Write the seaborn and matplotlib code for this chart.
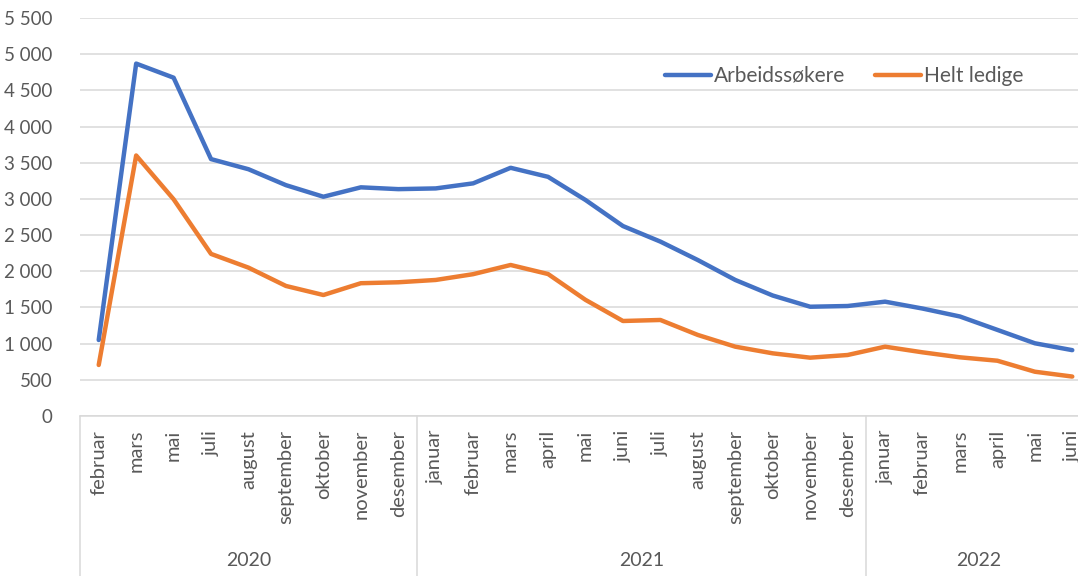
import numpy as np
import pandas as pd
import matplotlib
matplotlib.use("Agg")
import matplotlib.pyplot as plt
import matplotlib.ticker as mticker
import seaborn as sns

# data
years = ["2020", "2021", "2022"]
months_2020 = ["februar", "mars", "mai", "juli", "august", "september",
               "oktober", "november", "desember"]
months_2021 = ["januar", "februar", "mars", "april", "mai", "juni", "juli",
               "august", "september", "oktober", "november", "desember"]
months_2022 = ["januar", "februar", "mars", "april", "mai", "juni"]

arbeidssokere = [1050, 4870, 4675, 3550, 3410, 3190, 3030, 3160, 3135,
                 3145, 3215, 3430, 3305, 2985, 2625, 2410, 2155,
                 1880, 1665, 1510, 1520, 1580, 1485, 1375, 1190, 1005, 910]
helt_ledige = [705, 3600, 2995, 2240, 2050, 1797, 1672, 1835, 1848,
               1880, 1960, 2087, 1962, 1605, 1313, 1327, 1120,
               958, 866, 806, 843, 958, 880, 811, 764, 612, 545]

GREY_TXT = "#595959"
GRID = "#d9d9d9"
BLUE = "#4472C4"
ORANGE = "#ED7D31"

sns.set_theme(style="white")
plt.rcParams["font.family"] = ["Lato", "DejaVu Sans"]

month_groups = [months_2020, months_2021, months_2022]
labels = [m for g in month_groups for m in g]
n = len(labels)
df = pd.DataFrame({
    "pos": list(range(n)) * 2,
    "verdi": arbeidssokere + helt_ledige,
    "serie": ["Arbeidssøkere"] * n + ["Helt ledige"] * n,
})

W, H = 1078, 576
fig = plt.figure(figsize=(W / 100, H / 100), dpi=100)
ax = fig.add_axes([80 / W, 160 / H, (1091 - 80) / W, (416 - 18) / H])

sns.lineplot(data=df, x="pos", y="verdi", hue="serie",
             palette={"Arbeidssøkere": BLUE, "Helt ledige": ORANGE},
             lw=3.2, ax=ax, legend=False)
for l in ax.get_lines():
    l.set_solid_joinstyle("round")
    l.set_solid_capstyle("round")

ax.set_xlim(-0.5, n - 0.5)
ax.set_ylim(0, 5500)
ax.yaxis.set_major_locator(mticker.MultipleLocator(500))
ax.yaxis.set_major_formatter(
    mticker.FuncFormatter(lambda v, p: f"{int(v):,}".replace(",", " ")))
ax.grid(axis="y", color=GRID, lw=1.1)
ax.set_axisbelow(True)
for s in ["top", "right", "left"]:
    ax.spines[s].set_visible(False)
ax.spines["bottom"].set_color(GRID)
ax.spines["bottom"].set_linewidth(1.1)

ax.set_xticks(range(n))
ax.set_xticklabels(labels, rotation=90, va="top")
ax.tick_params(axis="x", length=0, pad=10, labelsize=14.5, labelcolor=GREY_TXT)
ax.tick_params(axis="y", length=0, pad=20, labelsize=13.5, labelcolor=GREY_TXT)
ax.set_xlabel("")
ax.set_ylabel("")

# year groups below the month labels
trans = ax.get_xaxis_transform()
depth = -160 / 398
start = -0.5
for yr, g in zip(years, month_groups):
    end = start + len(g)
    ax.plot([start, start], [0, depth], color=GRID, lw=1.1,
            transform=trans, clip_on=False)
    ax.text((start + end) / 2, -144 / 398, yr, transform=trans,
            ha="center", va="center", fontsize=14, color=GREY_TXT)
    start = end
ax.plot([start, start], [0, depth], color=GRID, lw=1.1,
        transform=trans, clip_on=False)

handles = [plt.Line2D([], [], color=BLUE, lw=3.2),
           plt.Line2D([], [], color=ORANGE, lw=3.2)]
fig.legend(handles, ["Arbeidssøkere", "Helt ledige"], loc="center left",
           bbox_to_anchor=(646 / W, 1 - 76 / H), ncol=2, frameon=False,
           fontsize=15, handlelength=2.2, handletextpad=0.15,
           columnspacing=1.45, labelcolor=GREY_TXT)

fig.savefig("out.png", dpi=100)
